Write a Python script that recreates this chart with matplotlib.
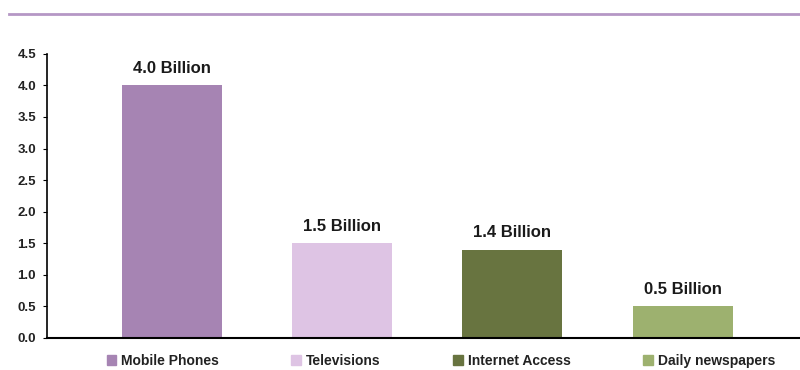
import numpy as np
from matplotlib import pyplot as plt
from matplotlib.lines import Line2D
from matplotlib.patches import Patch

## data
categories = ['Mobile Phones', 'Televisions', 'Internet Access', 'Daily newspapers']
values = [4.0, 1.5, 1.4, 0.5]
labels = ['4.0 Billion', '1.5 Billion', '1.4 Billion', '0.5 Billion']
colors = ['#A684B3', '#DEC4E4', '#687440', '#9DB16F']

plt.rcParams['font.family'] = ['Liberation Sans', 'DejaVu Sans']

fig = plt.figure(figsize=(8, 3.7), dpi=100)
ax = fig.add_axes([0.059, 0.0865, 0.941, 0.768])

x = np.arange(len(categories))
bars = ax.bar(x, values, width=0.587, color=colors)

for b, lab in zip(bars, labels):
    ax.text(b.get_x() + b.get_width()/2, b.get_height() + 0.15, lab,
            ha='center', va='bottom', fontsize=12, fontweight='bold', color='#1a1a1a')

ax.set_ylim(0, 4.5)
ax.set_xlim(-0.733, 3.69)
ax.set_yticks(np.arange(0, 4.51, 0.5))
ax.set_yticklabels(['%.1f' % v for v in np.arange(0, 4.51, 0.5)],
                   fontsize=9.5, fontweight='bold', color='#222222')
ax.set_xticks([])
ax.tick_params(axis='y', length=3, width=0.8, pad=5)
ax.spines['top'].set_visible(False)
ax.spines['right'].set_visible(False)
ax.spines['left'].set_linewidth(1.2)
ax.spines['bottom'].set_linewidth(1.5)

## top decorative line
fig.add_artist(Line2D([0.011, 1.0], [0.962, 0.962], color='#B597C5', linewidth=2))

## legend
handles = [Patch(color=c) for c in colors]
leg = fig.legend(handles, categories, loc='center', bbox_to_anchor=(0.551, 0.024),
                 ncol=4, frameon=False, fontsize=10, handlelength=0.7, handleheight=0.7,
                 handletextpad=0.36, columnspacing=5.2, borderpad=0, borderaxespad=0)
for t in leg.get_texts():
    t.set_fontweight('bold')
    t.set_color('#222222')

plt.savefig('out.png', dpi=100)
